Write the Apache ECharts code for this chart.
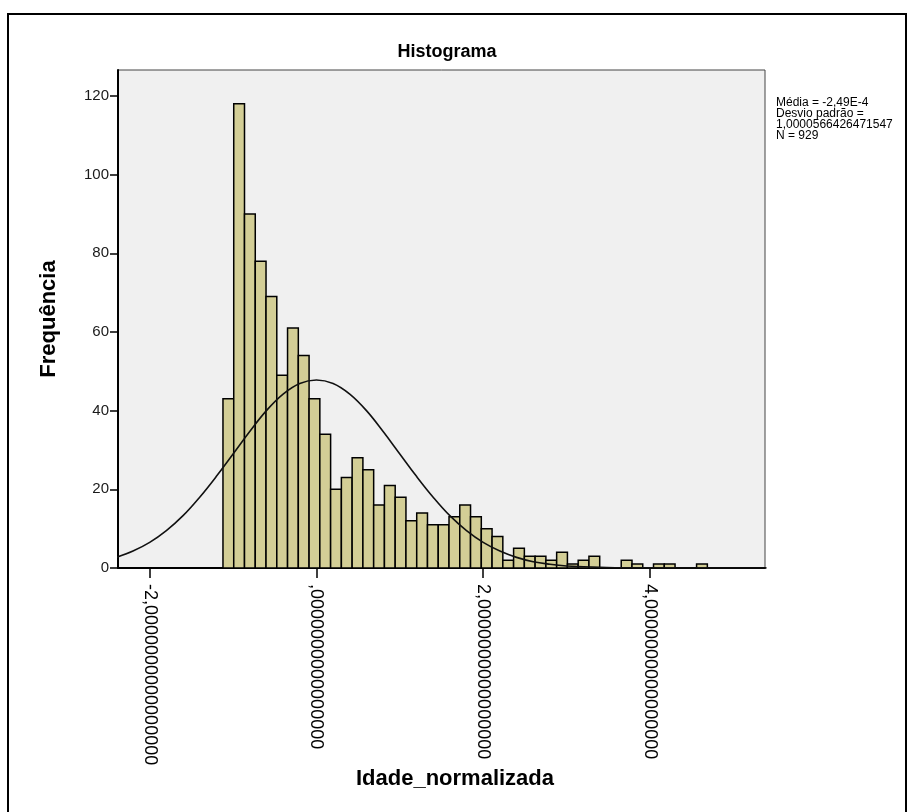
<!DOCTYPE html>
<html>
<head>
<meta charset="utf-8">
<script src="https://cdn.jsdelivr.net/npm/echarts@6/dist/echarts.min.js"></script>
<style>
	html, body { margin: 0; padding: 0; background: #fff; }
	#chart { width: 911px; height: 812px; }
</style>
</head>
<body>
<div id="chart"></div>
<script>
// histogram bins (Idade_normalizada)
var binStart = -1.121
var binWidth = 0.1291
var counts = [43, 118, 90, 78, 69, 49, 61, 54, 43, 34, 20, 23, 28, 25, 16, 21, 18, 12, 14, 11,
	11, 13, 16, 13, 10, 8, 2, 5, 3, 3, 2, 4, 1, 2, 3, 0, 0, 2, 1, 0, 1, 1, 0, 0, 1]

// normal curve
var curveX = [-2.4, -2.2, -2.0, -1.8, -1.6, -1.4, -1.2, -1.0, -0.8, -0.6, -0.4, -0.2, 0, 0.2, 0.4, 0.6, 0.8, 1.0,
	1.2, 1.4, 1.6, 1.8, 2.0, 2.2, 2.4, 2.6, 2.8, 3.0, 3.2, 3.4, 3.6, 3.8, 4.0, 4.4, 5.4]
var curveY = [2.7, 4.3, 6.5, 9.5, 13.3, 18.0, 23.3, 29.0, 34.7, 40.0, 44.2, 46.9, 47.8, 46.9, 44.2, 40.0, 34.7, 29.0,
	23.3, 18.0, 13.3, 9.5, 6.5, 4.3, 2.7, 1.6, 0.95, 0.5, 0.3, 0.15, 0.07, 0.03, 0.02, 0, 0]

var xTickValues = [-2, 0, 2, 4]
var xTickLabels = ['-2,0000000000000000', ',0000000000000000', '2,0000000000000000', '4,0000000000000000']
var yTickValues = [0, 20, 40, 60, 80, 100, 120]

var statsLines = ['Média = -2,49E-4', 'Desvio padrão =', '1,0000566426471547', 'N = 929']

var font = 'Liberation Sans, Arial, sans-serif'

var binData = []
for (var i = 0; i < counts.length; i++) {
	binData.push([binStart + i * binWidth, binStart + (i + 1) * binWidth, counts[i]])
}
var curveData = []
for (var j = 0; j < curveX.length; j++) {
	curveData.push([curveX[j], curveY[j]])
}

var myChart = echarts.init(document.getElementById('chart'))
var option = {
	backgroundColor: '#ffffff',
	animation: false,
	title: {
		text: 'Histograma',
		left: 442,
		top: 38,
		textAlign: 'center',
		textStyle: { fontFamily: font, fontSize: 18, fontWeight: 'bold', color: '#000' }
	},
	grid: {
		left: 118,
		right: 146,
		top: 70,
		bottom: 244,
		show: true,
		backgroundColor: '#f0f0f0',
		borderColor: '#444',
		borderWidth: 1
	},
	xAxis: {
		type: 'value',
		min: -2.38,
		max: 5.38,
		splitLine: { show: false },
		axisLine: { onZero: false, lineStyle: { color: '#000', width: 2 } },
		axisTick: { customValues: xTickValues, length: 10, lineStyle: { color: '#000', width: 1.5 } },
		axisLabel: {
			customValues: xTickValues,
			rotate: -90,
			margin: 16,
			fontFamily: font,
			fontSize: 18,
			color: '#000',
			formatter: function (v) {
				var k = xTickValues.indexOf(v)
				return k >= 0 ? xTickLabels[k] : ''
			}
		}
	},
	yAxis: {
		type: 'value',
		min: 0,
		max: 126.6,
		name: 'Frequência',
		nameLocation: 'middle',
		nameGap: 58,
		nameTextStyle: { fontFamily: font, fontSize: 22, fontWeight: 'bold', color: '#000' },
		splitLine: { show: false },
		axisLine: { show: true, onZero: false, lineStyle: { color: '#000', width: 2 } },
		axisTick: { show: true, customValues: yTickValues, length: 8, lineStyle: { color: '#000', width: 1.5 } },
		axisLabel: { customValues: yTickValues, margin: 9, fontFamily: font, fontSize: 15, color: '#1a1a1a' }
	},
	graphic: [{
		type: 'rect',
		shape: { x: 8, y: 14, width: 898, height: 810 },
		style: { fill: 'none', stroke: '#000', lineWidth: 2 },
		z: 100
	}, {
		// x axis title, centred on the whole chart as in the original
		type: 'text',
		x: 455,
		y: 779,
		style: {
			text: 'Idade_normalizada',
			font: 'bold 22px ' + font,
			fill: '#000',
			align: 'center',
			verticalAlign: 'middle'
		}
	}, {
		type: 'text',
		left: 776,
		top: 97,
		style: {
			text: statsLines.join('\n'),
			font: '12px ' + font,
			lineHeight: 11,
			fill: '#000'
		}
	}],
	series: [{
		name: 'Frequência',
		type: 'custom',
		data: binData,
		encode: { x: [0, 1], y: 2 },
		renderItem: function (params, api) {
			var c = api.value(2)
			if (!c) return null
			var p0 = api.coord([api.value(0), c])
			var p1 = api.coord([api.value(1), 0])
			return {
				type: 'rect',
				shape: { x: p0[0], y: p0[1], width: p1[0] - p0[0], height: p1[1] - p0[1] },
				style: { fill: '#d3ce96', stroke: '#000', lineWidth: 1.5 }
			}
		},
		z: 2
	}, {
		name: 'Normal',
		type: 'line',
		data: curveData,
		smooth: 0.4,
		showSymbol: false,
		lineStyle: { color: '#111', width: 1.6 },
		z: 3
	}]
}
myChart.setOption(option)
window.addEventListener('resize', function () {
	myChart.resize()
})
</script>
</body>
</html>
